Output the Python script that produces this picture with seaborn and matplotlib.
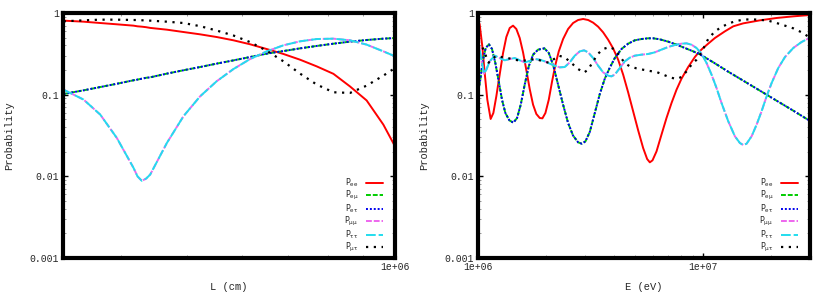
import matplotlib
matplotlib.use("Agg")
import matplotlib.pyplot as plt
import seaborn as sns
import numpy as np
import pandas as pd
from matplotlib.ticker import FixedLocator, NullFormatter, FixedFormatter

# ---------------- data: left panel (vs L) ----------------
L_cm = [3.307e5, 3.535e5, 3.737e5, 3.95e5, 4.176e5, 4.232e5, 4.294e5, 4.357e5, 4.415e5,
        4.668e5, 4.934e5, 5.216e5, 5.513e5, 5.831e5, 6.164e5, 6.516e5, 6.889e5, 7.283e5,
        7.7e5, 8.141e5, 8.606e5, 9.096e5, 9.618e5, 1.0e6]
L_Pee = [0.806, 0.783, 0.754, 0.727, 0.700, 0.687, 0.680, 0.670, 0.657, 0.625, 0.585, 0.548,
         0.508, 0.463, 0.414, 0.362, 0.315, 0.268, 0.222, 0.18, 0.126, 0.085, 0.043, 0.0233]
L_Pemu = [0.102, 0.113, 0.124, 0.136, 0.150, 0.153, 0.157, 0.161, 0.163, 0.181, 0.199, 0.218,
          0.240, 0.263, 0.289, 0.318, 0.342, 0.369, 0.395, 0.421, 0.446, 0.467, 0.485, 0.494]
L_Petau = L_Pemu
L_Pmumu = [0.115, 0.087, 0.057, 0.0295, 0.0127, 0.0100, 0.0088, 0.0094, 0.0105, 0.0256, 0.0544,
           0.0954, 0.146, 0.206, 0.273, 0.339, 0.402, 0.450, 0.480, 0.485, 0.463, 0.41, 0.339, 0.295]
L_Ptautau = L_Pmumu
L_Pmutau = [0.791, 0.813, 0.829, 0.829, 0.821, 0.82, 0.815, 0.81, 0.806, 0.783, 0.754, 0.69,
            0.61, 0.53, 0.44, 0.345, 0.256, 0.181, 0.133, 0.107, 0.105, 0.129, 0.171, 0.212]

# ---------------- data: right panel (vs E) ----------------
E_ee = [1.0e6, 1.017e6, 1.045e6, 1.071e6, 1.100e6, 1.138e6, 1.170e6, 1.206e6, 1.248e6, 1.292e6,
        1.336e6, 1.383e6, 1.431e6, 1.480e6, 1.532e6, 1.585e6, 1.640e6, 1.697e6, 1.756e6, 1.816e6,
        1.880e6, 1.932e6, 1.992e6, 2.062e6, 2.133e6, 2.207e6, 2.284e6, 2.387e6, 2.512e6, 2.644e6,
        2.783e6, 2.929e6, 3.083e6, 3.245e6, 3.415e6, 3.594e6, 3.783e6, 3.981e6, 4.191e6, 4.411e6,
        4.642e6, 4.886e6, 5.142e6, 5.412e6, 5.637e6, 5.794e6, 5.955e6, 6.204e6, 6.528e6, 6.871e6,
        7.232e6, 7.612e6, 8.011e6, 8.577e6, 9.183e6, 9.665e6, 1.0e7, 1.052e7, 1.127e7, 1.248e7,
        1.360e7, 1.506e7, 1.786e7, 2.118e7, 2.512e7, 2.98e7]
P_ee = [0.829, 0.726, 0.391, 0.184, 0.0868, 0.0504, 0.0596, 0.0954, 0.176, 0.324,
        0.508, 0.655, 0.70, 0.637, 0.494, 0.33, 0.199, 0.117, 0.0754, 0.058,
        0.0518, 0.0513, 0.0596, 0.0868, 0.1457, 0.233, 0.339, 0.48, 0.637, 0.754,
        0.821, 0.845, 0.821, 0.762, 0.68, 0.58, 0.471, 0.369, 0.268, 0.176,
        0.1068, 0.0625, 0.0366, 0.0222, 0.0163, 0.01484, 0.0157, 0.0202, 0.0324, 0.0518,
        0.079, 0.115, 0.157, 0.218, 0.289, 0.342, 0.373, 0.421, 0.494, 0.596,
        0.687, 0.747, 0.813, 0.869, 0.91, 0.945]

E_emu = [1.0e6, 1.024e6, 1.052e6, 1.082e6, 1.119e6, 1.154e6, 1.194e6, 1.236e6, 1.278e6, 1.323e6,
         1.378e6, 1.436e6, 1.491e6, 1.548e6, 1.612e6, 1.680e6, 1.756e6, 1.848e6, 1.972e6, 2.062e6,
         2.154e6, 2.268e6, 2.387e6, 2.512e6, 2.644e6, 2.783e6, 2.889e6, 3.0e6, 3.135e6, 3.301e6,
         3.474e6, 3.656e6, 3.848e6, 4.050e6, 4.336e6, 4.642e6, 4.969e6, 5.320e6, 5.695e6, 5.995e6,
         6.419e6, 6.989e6, 7.612e6, 8.289e6, 9.027e6, 9.665e6, 1.127e7, 1.292e7, 1.506e7, 1.786e7,
         2.118e7, 2.512e7, 2.98e7]
P_emu = [0.1048, 0.1527, 0.268, 0.373, 0.4134, 0.3624, 0.244, 0.1457, 0.0868, 0.0596,
         0.0485, 0.0454, 0.0518, 0.0754, 0.1326, 0.222, 0.309, 0.356, 0.369, 0.324,
         0.233, 0.1326, 0.0754, 0.045, 0.0315, 0.0261, 0.0251, 0.0268, 0.0349, 0.0596,
         0.1019, 0.157, 0.214, 0.281, 0.3624, 0.421, 0.463, 0.48, 0.49, 0.49,
         0.476, 0.446, 0.41, 0.373, 0.339, 0.312, 0.242, 0.191, 0.1484, 0.112,
         0.0844, 0.0637, 0.0476]
E_etau, P_etau = E_emu, P_emu

E_mumu = [1.0e6, 1.035e6, 1.063e6, 1.089e6, 1.127e6, 1.186e6, 1.248e6, 1.314e6, 1.383e6, 1.455e6,
          1.532e6, 1.612e6, 1.697e6, 1.786e6, 1.880e6, 1.979e6, 2.082e6, 2.192e6, 2.307e6, 2.428e6,
          2.555e6, 2.690e6, 2.831e6, 2.959e6, 3.083e6, 3.245e6, 3.415e6, 3.594e6, 3.783e6, 3.914e6,
          4.050e6, 4.263e6, 4.486e6, 4.722e6, 4.969e6, 5.320e6, 5.695e6, 6.098e6, 6.528e6, 6.989e6,
          7.482e6, 8.011e6, 8.433e6, 8.874e6, 9.341e6, 9.831e6, 1.035e7, 1.089e7, 1.146e7, 1.206e7,
          1.292e7, 1.383e7, 1.455e7, 1.506e7, 1.558e7, 1.640e7, 1.726e7, 1.816e7, 1.912e7, 2.013e7,
          2.154e7, 2.307e7, 2.512e7, 2.735e7, 2.98e7]
P_mumu = [0.494, 0.268, 0.1807, 0.2024, 0.256, 0.3003, 0.281, 0.2633, 0.2733, 0.281,
          0.2633, 0.2488, 0.2584, 0.2733, 0.268, 0.256, 0.2397, 0.2265, 0.2161, 0.218,
          0.2488, 0.3003, 0.339, 0.349, 0.33, 0.281, 0.2265, 0.1877, 0.1709, 0.1677,
          0.176, 0.212, 0.256, 0.2838, 0.3003, 0.309, 0.3148, 0.33, 0.356, 0.3835,
          0.4057, 0.421, 0.425, 0.409, 0.373, 0.3177, 0.244, 0.176, 0.1207, 0.0791,
          0.0472, 0.0309, 0.0256, 0.0242, 0.0251, 0.0309, 0.0429, 0.0625, 0.0954, 0.139,
          0.212, 0.289, 0.373, 0.4416, 0.4989]
E_tautau, P_tautau = E_mumu, P_mumu

E_mutau = [1.0e6, 1.035e6, 1.071e6, 1.115e6, 1.154e6, 1.198e6, 1.270e6, 1.373e6, 1.455e6, 1.574e6,
           1.697e6, 1.804e6, 1.945e6, 2.062e6, 2.177e6, 2.284e6, 2.428e6, 2.599e6, 2.783e6, 2.949e6,
           3.083e6, 3.245e6, 3.415e6, 3.594e6, 3.848e6, 4.050e6, 4.263e6, 4.486e6, 4.722e6, 5.054e6,
           5.412e6, 5.794e6, 6.204e6, 6.640e6, 7.111e6, 7.612e6, 8.011e6, 8.433e6, 8.874e6, 9.341e6,
           9.831e6, 1.052e7, 1.127e7, 1.206e7, 1.292e7, 1.383e7, 1.506e7, 1.612e7, 1.756e7, 1.945e7,
           2.118e7, 2.307e7, 2.512e7, 2.735e7, 2.98e7]
P_mutau = [0.45, 0.409, 0.324, 0.2465, 0.268, 0.2975, 0.289, 0.2786, 0.268, 0.2584,
           0.268, 0.2733, 0.256, 0.2465, 0.2733, 0.3003, 0.2866, 0.244, 0.2062, 0.186,
           0.202, 0.256, 0.3177, 0.3624, 0.3835, 0.356, 0.295, 0.244, 0.222, 0.21,
           0.202, 0.195, 0.1895, 0.176, 0.163, 0.1555, 0.1646, 0.193, 0.233, 0.268,
           0.33, 0.48, 0.596, 0.674, 0.74, 0.791, 0.829, 0.836, 0.829, 0.806,
           0.754, 0.70, 0.649, 0.58, 0.4989]

labels = [r"P$_{\mathregular{ee}}$", r"P$_{\mathregular{e\mu}}$", r"P$_{\mathregular{e\tau}}$",
          r"P$_{\mathregular{\mu\mu}}$", r"P$_{\mathregular{\tau\tau}}$", r"P$_{\mathregular{\mu\tau}}$"]
y_ticks = [0.001, 0.01, 0.1, 1]
y_ticklabels = ["0.001", "0.01", "0.1", "1"]

styles = [
    dict(color="#ff0000", linestyle="-", linewidth=1.4),
    dict(color="#00cc00", linestyle=(0, (2.5, 1.0)), linewidth=1.4),
    dict(color="#0000ee", linestyle=(0, (1.0, 1.0)), linewidth=1.4),
    dict(color="#ee66ee", linestyle=(0, (3.0, 1.0)), linewidth=1.4),
    dict(color="#22ddee", linestyle=(0, (5.0, 1.5)), linewidth=1.4),
    dict(color="#000000", linestyle=(0, (1.0, 2.5)), linewidth=1.6),
]

sns.set_theme(style="white")
plt.rcParams["font.family"] = ["Liberation Mono", "DejaVu Sans Mono"]
plt.rcParams["mathtext.fontset"] = "dejavusans"

fig = plt.figure(figsize=(8.3, 2.92), dpi=100)
W, H = 830.0, 292.0
ax1 = fig.add_axes([63 / W, 34 / H, 332 / W, 245 / H])
ax2 = fig.add_axes([478 / W, 34 / H, 332 / W, 245 / H])

left_series = [(L_cm, L_Pee), (L_cm, L_Pemu), (L_cm, L_Petau),
               (L_cm, L_Pmumu), (L_cm, L_Ptautau), (L_cm, L_Pmutau)]
right_series = [(E_ee, P_ee), (E_emu, P_emu), (E_etau, P_etau),
                (E_mumu, P_mumu), (E_tautau, P_tautau), (E_mutau, P_mutau)]

for ax, series in ((ax1, left_series), (ax2, right_series)):
    for (xs, ys), lab, st in zip(series, labels, styles):
        sns.lineplot(x=xs, y=ys, ax=ax, label=lab, estimator=None, sort=False, **st)
    ax.set_xscale("log")
    ax.set_yscale("log")
    ax.set_ylim(0.001, 1)
    ax.yaxis.set_major_locator(FixedLocator(y_ticks))
    ax.yaxis.set_major_formatter(FixedFormatter(y_ticklabels))
    ax.yaxis.set_minor_locator(FixedLocator([m * 10.0 ** k for k in (-3, -2, -1) for m in range(2, 10)]))
    ax.yaxis.set_minor_formatter(NullFormatter())
    ax.set_ylabel("Probability", fontsize=7.5, labelpad=11)
    for s in ax.spines.values():
        s.set_linewidth(3.0)
        s.set_color("black")
        s.set_visible(True)
    ax.tick_params(which="major", direction="in", length=3.5, width=1.0, color="black",
                   top=True, right=True, bottom=True, left=True, labelsize=7, pad=3)
    ax.tick_params(which="minor", direction="in", length=2.5, width=0.6, color="0.55",
                   top=True, right=True, bottom=True, left=True)
    ax.grid(False)
    handles, labs = ax.get_legend_handles_labels()
    ax.legend(handles, labs, loc="lower right", bbox_to_anchor=(0.965, 0.015),
              frameon=False, markerfirst=False, handlelength=2.2,
              handletextpad=0.9, labelspacing=0.02, borderpad=0.0, borderaxespad=0.0,
              prop={"family": "DejaVu Sans", "size": 5.8})

ax1.set_xlim(3.3e5, 1.0e6)
ax1.xaxis.set_major_locator(FixedLocator([1e6]))
ax1.xaxis.set_major_formatter(FixedFormatter(["1e+06"]))
ax1.xaxis.set_minor_locator(FixedLocator([m * 1e5 for m in range(4, 10)]))
ax1.xaxis.set_minor_formatter(NullFormatter())
ax1.set_xlabel("L (cm)", fontsize=7.5, labelpad=7)

ax2.set_xlim(1.0e6, 2.98e7)
ax2.xaxis.set_major_locator(FixedLocator([1e6, 1e7]))
ax2.xaxis.set_major_formatter(FixedFormatter(["1e+06", "1e+07"]))
ax2.xaxis.set_minor_locator(FixedLocator([m * 1e6 for m in range(2, 10)] + [2e7]))
ax2.xaxis.set_minor_formatter(NullFormatter())
ax2.set_xlabel("E (eV)", fontsize=7.5, labelpad=7)

fig.savefig("out.png", dpi=100)
